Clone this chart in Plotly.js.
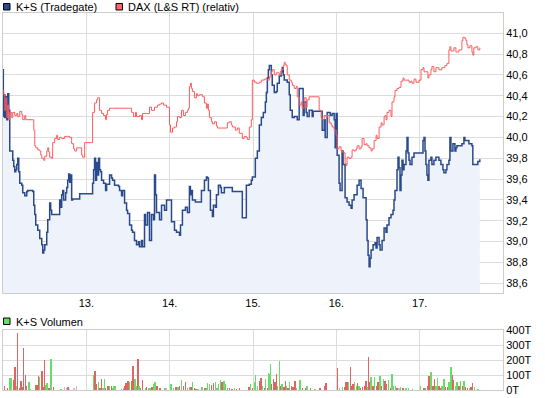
<!DOCTYPE html>
<html>
<head>
<meta charset="utf-8">
<script src="https://cdn.plot.ly/plotly-3.0.1.min.js"></script>
<style>
html,body{margin:0;padding:0;background:#fff;}
#chart{width:545px;height:398px;}
</style>
</head>
<body>
<div id="chart"></div>
<script>
// ---- data (day of month as fractional day) ----
var ksTime = [12.000,12.004,12.010,12.022,12.034,12.046,12.057,12.069,12.081,12.117,12.129,12.141,12.153,12.165,12.177,12.189,12.201,12.225,12.237,12.261,12.285,12.297,12.357,12.369,12.381,12.393,12.417,12.441,12.465,12.477,12.489,12.501,12.525,12.537,12.560,12.572,12.584,12.656,12.680,12.692,12.704,12.716,12.728,12.752,12.764,12.776,12.788,12.800,12.812,12.824,12.836,12.896,12.920,
13.075,13.087,13.099,13.111,13.123,13.135,13.147,13.159,13.171,13.183,13.207,13.231,13.243,13.279,13.303,13.315,13.339,13.387,13.399,13.423,13.435,13.459,13.483,13.495,13.519,13.543,13.555,13.578,13.602,13.626,13.638,13.662,13.674,13.698,13.710,13.734,13.758,13.782,13.806,13.818,13.830,13.842,13.878,13.902,13.938,13.962,13.998,
14.022,14.058,14.082,14.118,14.130,14.153,14.189,14.213,14.237,14.249,14.261,14.273,14.309,14.357,14.381,14.417,14.441,14.453,14.465,14.489,14.513,14.525,14.549,14.561,14.585,14.609,14.621,14.656,14.740,14.752,14.860,14.872,14.920,14.956,14.980,14.992,
15.028,15.052,15.076,15.100,15.124,15.148,15.160,15.172,15.184,15.196,15.208,15.220,15.231,15.255,15.279,15.291,15.315,15.339,15.351,15.363,15.375,15.411,15.435,15.447,15.471,15.495,15.531,15.554,15.590,15.602,15.614,15.638,15.650,15.674,15.710,15.722,15.818,15.830,15.854,15.866,15.890,15.926,15.950,15.974,15.986,15.998,
16.010,16.033,16.045,16.069,16.081,16.105,16.129,16.153,16.177,16.189,16.213,16.249,16.273,16.297,16.321,16.357,16.369,16.381,16.393,16.405,16.417,16.441,16.465,16.477,16.489,16.513,16.525,16.549,16.573,16.596,16.608,16.632,16.656,16.680,16.692,16.704,16.728,16.740,16.752,16.764,16.776,16.788,16.800,16.812,16.836,16.848,16.860,16.872,16.884,16.908,16.932,
17.016,17.040,17.052,17.064,17.075,17.087,17.099,17.111,17.135,17.147,17.171,17.195,17.231,17.255,17.279,17.291,17.315,17.327,17.351,17.363,17.375,17.399,17.423,17.435,17.447,17.507,17.531,17.543,17.567,17.591,17.627,17.638,17.674,17.698,17.722];
var ksPrice = [40.65,40.20,40.41,40.19,40.39,40.17,40.42,40.26,39.87,39.78,39.72,39.67,39.69,39.74,39.80,39.67,39.56,39.54,39.47,39.44,39.48,39.49,39.48,39.35,39.26,39.16,39.11,39.03,38.97,38.89,38.92,38.97,39.09,39.21,39.37,39.30,39.26,39.26,39.40,39.33,39.45,39.49,39.40,39.47,39.52,39.59,39.65,39.57,39.64,39.40,39.41,39.41,39.46,
39.56,39.69,39.80,39.59,39.76,39.64,39.80,39.69,39.67,39.59,39.56,39.49,39.55,39.64,39.61,39.59,39.54,39.53,39.49,39.44,39.49,39.37,39.30,39.27,39.16,39.11,39.09,39.01,38.97,39.00,38.95,39.01,38.95,39.26,39.16,39.28,39.01,39.26,39.21,39.64,39.45,39.28,39.21,39.35,39.30,39.40,39.40,
39.19,39.11,39.09,39.06,39.16,39.30,39.33,39.28,39.53,39.45,39.49,39.40,39.38,39.38,39.49,39.59,39.62,39.61,39.49,39.30,39.24,39.35,39.33,39.45,39.54,39.52,39.47,39.52,39.52,39.48,39.48,39.23,39.54,39.55,39.59,39.62,
39.80,39.87,40.12,40.19,40.24,40.34,40.43,40.57,40.65,40.69,40.69,40.60,40.50,40.43,40.44,40.52,40.59,40.63,40.67,40.60,40.55,40.53,40.41,40.26,40.19,40.20,40.17,40.47,40.47,40.21,40.34,40.24,40.20,40.26,40.20,40.25,40.25,40.07,40.17,40.00,40.24,40.21,40.23,40.17,39.90,40.23,
39.83,39.56,39.49,39.87,39.74,39.42,39.38,39.35,39.32,39.40,39.45,39.54,39.59,39.51,39.42,39.21,39.01,38.87,38.76,38.84,38.92,38.97,38.99,38.94,39.04,38.97,38.92,39.01,39.13,39.09,39.16,39.23,39.26,39.30,39.40,39.49,39.69,39.81,39.71,39.49,39.64,39.78,39.69,39.74,39.87,40.00,39.85,39.78,39.74,39.81,39.85,
39.85,39.97,40.00,39.87,39.74,39.64,39.59,39.78,39.81,39.74,39.78,39.81,39.78,39.74,39.69,39.66,39.69,39.74,39.78,40.00,39.87,39.94,39.87,39.90,39.92,39.94,40.00,39.97,39.97,39.94,39.92,39.74,39.74,39.77,39.79];

var daxTime = [12.000,12.010,12.022,12.034,12.046,12.057,12.069,12.081,12.105,12.117,12.141,12.165,12.177,12.201,12.225,12.237,12.261,12.273,12.357,12.369,12.381,12.393,12.417,12.441,12.453,12.465,12.489,12.501,12.525,12.537,12.548,12.560,12.584,12.596,12.620,12.644,12.656,12.680,12.704,12.740,12.776,12.800,12.824,12.848,12.860,12.884,12.920,12.944,12.956,12.980,
13.063,13.075,13.099,13.123,13.135,13.159,13.183,13.207,13.231,13.243,13.255,13.279,13.315,13.519,13.543,13.567,13.590,13.602,13.638,13.662,13.674,13.722,13.758,13.782,13.818,13.854,13.878,13.902,13.926,13.962,13.974,13.998,
14.010,14.034,14.058,14.082,14.094,14.118,14.142,14.165,14.189,14.213,14.225,14.237,14.249,14.261,14.273,14.297,14.321,14.333,14.357,14.393,14.417,14.441,14.453,14.465,14.477,14.501,14.513,14.537,14.561,14.573,14.680,14.692,14.716,14.740,14.752,14.788,14.812,14.835,14.872,14.895,14.920,14.932,14.956,14.980,14.992,
15.016,15.040,15.076,15.100,15.136,15.172,15.196,15.220,15.231,15.255,15.279,15.315,15.339,15.363,15.375,15.387,15.399,15.411,15.435,15.459,15.471,15.495,15.519,15.531,15.554,15.578,15.590,15.614,15.638,15.650,15.674,15.770,15.794,15.818,15.830,15.854,15.878,15.890,15.914,15.938,15.950,15.974,15.998,
16.010,16.033,16.057,16.069,16.093,16.105,16.117,16.129,16.153,16.177,16.189,16.213,16.237,16.249,16.273,16.297,16.309,16.333,16.357,16.369,16.393,16.417,16.429,16.453,16.477,16.489,16.513,16.537,16.549,16.573,16.585,16.596,16.608,16.632,16.656,16.668,16.692,16.704,16.728,16.752,16.776,16.800,16.812,16.836,16.872,16.896,16.908,16.932,16.956,16.992,
17.016,17.040,17.052,17.075,17.099,17.111,17.135,17.147,17.171,17.195,17.231,17.255,17.267,17.303,17.327,17.351,17.363,17.375,17.411,17.435,17.471,17.495,17.507,17.519,17.543,17.555,17.567,17.579,17.603,17.627,17.638,17.650,17.674,17.698,17.722];
var daxRel = [40.45,40.41,40.26,40.38,40.19,40.31,40.17,40.24,40.19,40.24,40.21,40.23,40.20,40.25,40.22,40.17,40.21,40.17,40.17,40.07,39.92,39.90,39.88,39.87,39.83,39.80,39.78,39.82,39.87,39.90,39.86,39.81,39.80,39.95,39.99,40.02,39.98,40.00,39.99,40.01,40.01,40.00,39.94,39.89,39.87,39.90,39.90,39.83,39.81,39.95,
39.95,40.24,40.33,40.36,40.38,40.26,40.23,40.21,40.17,40.22,40.26,40.28,40.28,40.28,40.24,40.20,40.24,40.20,40.21,40.17,40.23,40.23,40.29,40.26,40.29,40.31,40.32,40.33,40.31,40.29,40.29,40.12,
40.05,40.09,40.10,40.15,40.20,40.19,40.26,40.21,40.24,40.26,40.28,40.49,40.52,40.47,40.44,40.38,40.42,40.40,40.41,40.39,40.33,40.28,40.32,40.26,40.19,40.15,40.13,40.15,40.11,40.09,40.09,40.14,40.15,40.12,40.10,40.07,40.09,40.04,39.99,40.01,40.00,39.98,40.10,40.17,40.55,
40.53,40.52,40.53,40.55,40.56,40.55,40.58,40.63,40.65,40.60,40.62,40.60,40.65,40.69,40.72,40.70,40.69,40.60,40.55,40.53,40.50,40.47,40.49,40.39,40.31,40.34,40.28,40.38,40.29,40.36,40.39,40.39,40.26,40.19,40.17,40.21,40.19,40.21,40.14,40.12,40.10,40.07,40.02,
39.89,39.91,39.87,39.86,39.85,39.75,39.73,39.81,39.80,39.81,39.88,39.87,39.89,39.92,39.89,39.91,39.99,39.93,39.94,39.92,39.90,39.87,39.89,39.97,40.02,39.99,40.10,40.14,40.12,40.20,40.21,40.17,40.24,40.26,40.20,40.34,40.39,40.45,40.47,40.48,40.54,40.57,40.55,40.55,40.53,40.54,40.52,40.56,40.53,40.55,
40.65,40.67,40.63,40.63,40.57,40.60,40.65,40.68,40.63,40.67,40.65,40.65,40.67,40.69,40.71,40.84,40.87,40.83,40.86,40.82,40.84,40.84,40.93,40.96,40.95,40.93,40.89,40.86,40.88,40.82,40.79,40.86,40.87,40.84,40.86];

// volume in thousands (T), direction: r = down, g = up, n = unchanged
var volTime = [12.019,12.052,12.085,12.094,12.127,12.143,12.168,12.177,12.198,12.218,12.239,12.247,12.272,12.285,12.314,12.326,12.397,12.418,12.426,12.439,12.468,12.480,12.501,12.509,12.530,12.551,12.576,12.584,12.605,12.696,12.738,12.759,12.780,12.800,12.850,12.884,
13.091,13.104,13.125,13.146,13.162,13.179,13.200,13.216,13.229,13.258,13.279,13.299,13.320,13.333,13.349,13.424,13.445,13.466,13.478,13.499,13.520,13.541,13.561,13.582,13.603,13.620,13.632,13.653,13.674,13.707,13.723,13.748,13.765,13.786,13.807,13.823,13.848,13.882,13.944,13.965,
14.015,14.048,14.077,14.098,14.119,14.139,14.164,14.193,14.214,14.235,14.256,14.277,14.297,14.318,14.339,14.389,14.422,14.443,14.455,14.476,14.505,14.526,14.547,14.568,14.588,14.609,14.630,14.651,14.672,14.692,14.721,14.746,14.775,14.805,14.838,14.950,14.971,14.996,
15.017,15.033,15.054,15.079,15.096,15.116,15.137,15.150,15.171,15.183,15.200,15.212,15.225,15.245,15.262,15.283,15.295,15.320,15.337,15.349,15.370,15.387,15.403,15.420,15.441,15.462,15.482,15.503,15.524,15.565,15.595,15.628,15.649,15.690,15.744,15.802,15.857,15.877,
16.015,16.035,16.077,16.098,16.114,16.127,16.148,16.168,16.181,16.202,16.218,16.239,16.252,16.272,16.293,16.314,16.335,16.356,16.376,16.389,16.401,16.418,16.439,16.459,16.480,16.501,16.522,16.543,16.563,16.584,16.605,16.626,16.647,16.667,16.688,16.709,16.730,16.751,16.771,16.800,16.834,16.867,16.917,
17.008,17.050,17.071,17.091,17.112,17.125,17.137,17.158,17.175,17.195,17.216,17.233,17.249,17.270,17.291,17.312,17.333,17.353,17.374,17.395,17.408,17.428,17.449,17.470,17.491,17.511,17.532,17.553,17.574,17.595,17.615,17.636,17.657,17.699];
var volK = [29,13,80,80,69,155,29,378,13,58,22,278,102,29,56,7,36,36,96,89,129,22,200,36,44,13,207,13,22,7,22,13,22,7,13,29,
102,124,40,51,13,73,13,73,13,29,29,29,13,29,29,7,13,29,44,62,51,58,162,73,29,207,29,13,69,13,22,13,13,22,40,51,29,13,13,13,
40,13,22,22,29,67,29,51,13,22,22,51,13,7,7,22,13,13,44,40,33,44,51,13,40,67,51,58,40,13,13,7,13,7,13,22,40,13,
51,102,29,62,80,29,13,73,13,111,107,173,40,73,51,107,29,196,29,40,22,62,29,13,51,29,22,58,13,67,13,13,29,13,7,13,29,44,
147,13,22,22,56,51,51,151,29,40,51,29,44,29,13,22,29,62,22,222,51,89,29,84,29,51,96,29,73,62,40,67,13,107,29,29,13,13,22,13,13,13,7,
29,13,13,29,96,67,118,29,73,29,80,29,13,29,73,22,22,51,151,102,67,29,51,29,62,29,62,18,13,13,22,44,22,7];
var volDir = ['r','r','g','g','r','r','g','r','r','r','r','r','r','r','g','g','r','r','r','g','r','r','r','g','g','r','g','g','r','g','n','n','r','n','n','n',
'g','r','r','g','r','r','g','g','r','r','g','r','g','g','g','g','g','r','r','r','g','r','r','g','g','r','g','r','r','g','r','g','g','r','g','g','r','r','g','n',
'g','g','r','g','r','g','r','r','g','g','r','g','r','r','g','g','r','g','g','g','r','r','g','g','g','g','r','g','g','g','r','r','g','r','r','r','g','r',
'g','g','g','r','r','g','r','g','r','g','g','g','r','r','r','r','g','g','r','g','r','r','g','r','g','r','r','r','g','g','r','r','g','r','g','r','r','r',
'r','g','g','r','r','r','g','r','r','r','g','g','r','g','r','r','r','r','g','r','r','g','r','g','r','r','g','r','g','r','r','g','r','g','g','g','r','n','g','r','g','g','g',
'g','r','g','r','r','r','g','r','r','g','g','r','r','g','g','r','r','g','g','r','r','g','g','r','g','r','g','r','r','g','r','r','g','g'];

var dayTicks = [13, 14, 15, 16, 17];
var dayLabels = ['13.', '14.', '15.', '16.', '17.'];
var priceTicks = [38.6, 38.8, 39.0, 39.2, 39.4, 39.6, 39.8, 40.0, 40.2, 40.4, 40.6, 40.8, 41.0];
var volTicks = [0, 100, 200, 300, 400];
var volTickLabels = ['0T', '100T', '200T', '300T', '400T'];
var legendNames = ['K+S (Tradegate)', 'DAX (L&S RT) (relativ)', 'K+S Volumen'];

// ---- styling ----
var dirColor = {r: '#e06464', g: '#66dd66', n: '#c4c4c4'};
var GRID = '#dcdcdc', BORDER = '#cdcdcd';
var W = 545, H = 398, ML = 3, MR = 42, MT = 13, MB = 8;
var plotW = W - ML - MR, plotH = H - MT - MB;
function px(x) { return (x - ML) / plotW; }
function py(y) { return (H - MB - y) / plotH; }

var traces = [
  {x: ksTime, y: ksPrice, type: 'scatter', mode: 'lines', xaxis: 'x', yaxis: 'y',
   line: {color: '#2b4a8b', width: 1.5, shape: 'hv'}, fill: 'tozeroy', fillcolor: '#eef2fa', hoverinfo: 'skip'},
  {x: daxTime, y: daxRel, type: 'scatter', mode: 'lines', xaxis: 'x', yaxis: 'y',
   line: {color: '#ff5c5c', width: 1, shape: 'hv'}, hoverinfo: 'skip'},
  {x: volTime, y: volK, type: 'bar', xaxis: 'x2', yaxis: 'y2', width: 0.017,
   marker: {color: volDir.map(function (d) { return dirColor[d]; }), line: {width: 0}}, hoverinfo: 'skip'}
];

var axisCommon = {showgrid: true, gridcolor: GRID, gridwidth: 1, showline: true, linecolor: BORDER,
  linewidth: 1, mirror: true, zeroline: false, ticks: '', fixedrange: true};

var layout = {
  width: W, height: H,
  margin: {l: ML, r: MR, t: MT, b: MB, pad: 0},
  paper_bgcolor: '#ffffff', plot_bgcolor: '#ffffff',
  showlegend: false,
  font: {family: 'Liberation Sans, Arial, sans-serif', size: 11, color: '#000000'},
  xaxis: Object.assign({}, axisCommon, {domain: [0, 1], anchor: 'y', range: [12, 18],
    tickmode: 'array', tickvals: dayTicks, ticktext: dayLabels, tickfont: {size: 11}}),
  yaxis: Object.assign({}, axisCommon, {domain: [py(293), 1], anchor: 'x', side: 'right',
    range: [38.507, 41.194], tickmode: 'array', tickvals: priceTicks,
    ticktext: priceTicks.map(function (v) { return v.toFixed(1).replace('.', ','); }), tickfont: {size: 11}}),
  xaxis2: Object.assign({}, axisCommon, {domain: [0, 1], anchor: 'y2', range: [12, 18],
    tickmode: 'array', tickvals: dayTicks, showticklabels: false}),
  yaxis2: Object.assign({}, axisCommon, {domain: [0, py(330)], anchor: 'x2', side: 'right',
    range: [0, 400], tickmode: 'array', tickvals: volTicks, ticktext: volTickLabels, tickfont: {size: 11}}),
  bargap: 0,
  shapes: [
    {type: 'rect', xref: 'paper', yref: 'paper', x0: px(3.5), x1: px(10), y0: py(10), y1: py(3.5),
     fillcolor: '#2b4a8b', line: {color: '#000000', width: 1}},
    {type: 'rect', xref: 'paper', yref: 'paper', x0: px(116), x1: px(122.5), y0: py(10), y1: py(3.5),
     fillcolor: '#ff6666', line: {color: '#000000', width: 1}},
    {type: 'rect', xref: 'paper', yref: 'paper', x0: px(3.5), x1: px(10), y0: py(324.5), y1: py(318),
     fillcolor: '#66dd66', line: {color: '#000000', width: 1}}
  ],
  annotations: [
    {xref: 'paper', yref: 'paper', x: px(13.5), y: py(7), xanchor: 'left', yanchor: 'middle',
     text: legendNames[0], showarrow: false, font: {size: 11}},
    {xref: 'paper', yref: 'paper', x: px(126), y: py(7), xanchor: 'left', yanchor: 'middle',
     text: legendNames[1].replace('&', '&amp;'), showarrow: false, font: {size: 11}},
    {xref: 'paper', yref: 'paper', x: px(13.5), y: py(321.5), xanchor: 'left', yanchor: 'middle',
     text: legendNames[2], showarrow: false, font: {size: 11}}
  ]
};

Plotly.newPlot('chart', traces, layout, {displayModeBar: false, staticPlot: true});
</script>
</body>
</html>
